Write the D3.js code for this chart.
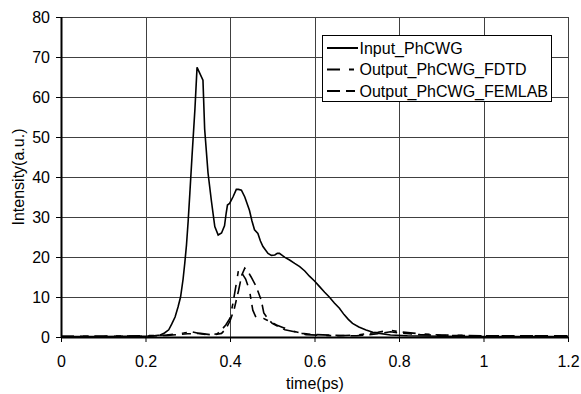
<!DOCTYPE html>
<html><head><meta charset="utf-8">
<script src="https://cdn.jsdelivr.net/npm/d3@7"></script>
<style>body{margin:0;background:#fff}svg{display:block}text{font-family:"Liberation Sans",Arial,sans-serif;font-size:16px;fill:#000}</style>
</head><body>
<script>
const inputT = [0,0.05,0.1,0.15,0.2,0.22,0.235,0.245,0.255,0.262,0.27,0.277,0.283,0.289,0.293,0.297,0.301,0.305,0.31,0.317,0.322,0.336,0.340,0.348,0.356,0.364,0.372,0.38,0.387,0.391,0.394,0.399,0.407,0.415,0.42,0.427,0.435,0.446,0.452,0.458,0.466,0.472,0.478,0.49,0.498,0.506,0.512,0.517,0.53,0.541,0.553,0.565,0.577,0.588,0.6,0.612,0.624,0.635,0.647,0.659,0.67,0.68,0.69,0.705,0.722,0.738,0.754,0.78,0.82,0.9,1.0,1.1,1.2];
const inputV = [0.1,0.1,0.1,0.15,0.2,0.3,0.5,1.0,1.8,3.2,5,7.5,10,14.5,18.5,23,29,36,45,57,67.4,64.2,52,41,34,27.6,25.5,26,27.8,31,33,33.4,35,36.9,36.9,36.7,35,31.7,29,26.8,25.9,24,22.6,20.9,20.4,20.5,20.9,20.9,19.9,19.25,18.4,17.6,16.5,15.2,14,12.6,11.2,10,8.5,7.2,5.6,4.4,3.4,2.5,1.75,1.2,0.9,0.5,0.3,0.2,0.1,0.1,0.1];
const fdtdT = [0,0.1,0.2,0.25,0.29,0.31,0.33,0.35,0.37,0.38,0.39,0.399,0.407,0.415,0.42,0.428,0.437,0.446,0.454,0.462,0.47,0.48,0.488,0.496,0.51,0.525,0.541,0.58,0.62,0.66,0.7,0.75,0.78,0.8,0.85,0.9,1.0,1.1,1.2];
const fdtdV = [0.2,0.2,0.3,0.5,1.0,1.3,0.8,0.5,0.8,1.8,3,4.5,8.4,13.4,16.7,16,14.5,11.7,6.7,4.8,4.2,4.6,4.2,3.8,3,2.4,1.75,0.6,0.4,0.3,0.5,1.2,1.7,1.3,0.8,0.5,0.3,0.3,0.3];
const femlabT = [0,0.1,0.2,0.25,0.3,0.33,0.36,0.38,0.39,0.4,0.41,0.42,0.428,0.435,0.442,0.45,0.462,0.474,0.48,0.49,0.5,0.53,0.57,0.6,0.65,0.7,0.75,0.78,0.8,0.85,0.9,1.0,1.1,1.2];
const femlabV = [0.1,0.2,0.2,0.4,0.8,0.9,0.5,0.9,2,4,7,11.5,15.5,17.2,16.5,15,12.6,9.2,6,4.5,3.4,1.8,0.9,0.6,0.4,0.3,0.8,1.3,1.0,0.6,0.4,0.3,0.3,0.3];
const seriesNames = ["Input_PhCWG","Output_PhCWG_FDTD","Output_PhCWG_FEMLAB"];
const xTicks = [0,0.2,0.4,0.6,0.8,1,1.2];
const yTicks = [0,10,20,30,40,50,60,70,80];

const W=581,H=394, L=61, R=568, T=17, B=337;
const svg=d3.select("body").append("svg").attr("width",W).attr("height",H);
const x=d3.scaleLinear().domain([0,1.2]).range([L,R]);
const y=d3.scaleLinear().domain([0,80]).range([B,T]);

const g=svg.append("g");
g.selectAll(".vg").data(xTicks.slice(1)).join("line")
 .attr("x1",d=>Math.round(x(d))+0.5).attr("x2",d=>Math.round(x(d))+0.5).attr("y1",T).attr("y2",B)
 .attr("stroke","#404040").attr("stroke-width",1);
g.selectAll(".hg").data(yTicks.slice(1)).join("line")
 .attr("y1",d=>Math.round(y(d))+0.5).attr("y2",d=>Math.round(y(d))+0.5).attr("x1",L).attr("x2",R)
 .attr("stroke","#404040").attr("stroke-width",1);

const xa=svg.append("g").attr("transform",`translate(0,${B})`)
 .call(d3.axisBottom(x).tickValues(xTicks).tickFormat(d=>d3.format("")(d)).tickSize(5).tickPadding(14));
const ya=svg.append("g").attr("transform",`translate(${L},0)`)
 .call(d3.axisLeft(y).tickValues(yTicks).tickSize(5).tickPadding(6));
[xa,ya].forEach(a=>{a.select(".domain").attr("stroke","#000").attr("stroke-width",2);
 a.selectAll(".tick line").attr("stroke","#000");
 a.selectAll("text").style("font-family",'"Liberation Sans",Arial,sans-serif').style("font-size","16px").attr("fill","#000");});
xa.select(".domain").attr("d",`M${L},0.5H${R}`);
ya.select(".domain").attr("d",`M0.5,${B}V${T}`);

const line=d3.line().x(d=>x(d[0])).y(d=>y(d[1]));
const series=[
 {name:seriesNames[0], data:d3.zip(inputT,inputV), dash:null},
 {name:seriesNames[1], data:d3.zip(fdtdT,fdtdV), dash:"13,9,5,6"},
 {name:seriesNames[2], data:d3.zip(femlabT,femlabV), dash:"13,6,9,6"}
];
series.forEach(s=>{
 svg.append("path").attr("d",line(s.data)).attr("fill","none").attr("stroke","#000")
  .attr("stroke-width",1.6).attr("stroke-dasharray",s.dash);
});

svg.append("text").attr("x",315).attr("y",389).attr("text-anchor","middle").text("time(ps)");
svg.append("text").attr("transform",`translate(23.5,177) rotate(-90)`).attr("text-anchor","middle").text("Intensity(a.u.)");

const lg=svg.append("g");
lg.append("rect").attr("x",322.5).attr("y",35.5).attr("width",229).attr("height",66).attr("fill","#fff").attr("stroke","#000").attr("stroke-width",1);
series.forEach((s,i)=>{
 const yy=48+i*21.5;
 lg.append("line").attr("x1",327).attr("x2",358).attr("y1",yy).attr("y2",yy).attr("stroke","#000").attr("stroke-width",2).attr("stroke-dasharray",s.dash);
 lg.append("text").attr("x",359.5).attr("y",yy+5.5).text(s.name);
});
</script>
</body></html>
